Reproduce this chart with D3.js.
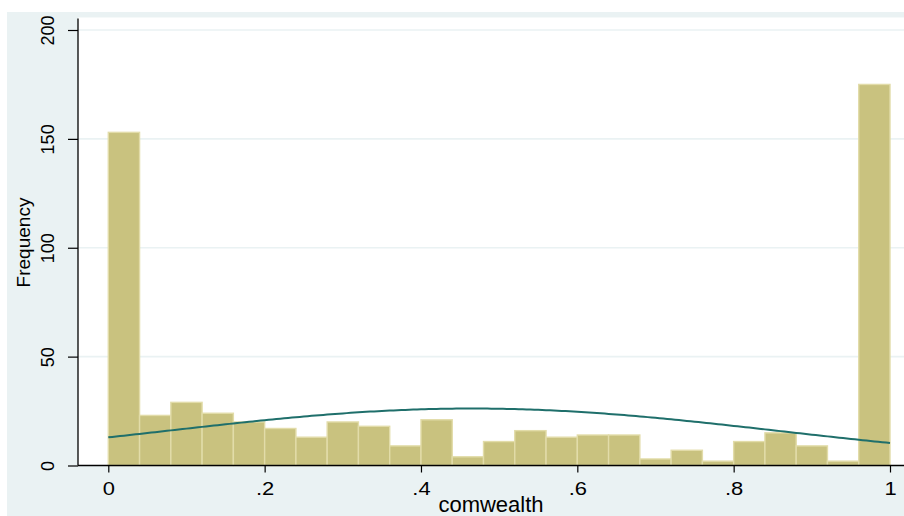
<!DOCTYPE html>
<html>
<head>
<meta charset="utf-8">
<script src="https://cdn.jsdelivr.net/npm/d3@7"></script>
<style>
  html, body { margin: 0; padding: 0; background: #ffffff; }
  svg { display: block; font-family: "Liberation Sans", Arial, Helvetica, sans-serif; }
</style>
</head>
<body>
<svg id="chart" width="904" height="516"></svg>
<script>
// Histogram of comwealth: 25 bins of width 0.04 on [0, 1]
const binStarts = [0.00, 0.04, 0.08, 0.12, 0.16, 0.20, 0.24, 0.28, 0.32, 0.36,
                   0.40, 0.44, 0.48, 0.52, 0.56, 0.60, 0.64, 0.68, 0.72, 0.76,
                   0.80, 0.84, 0.88, 0.92, 0.96];
const binCounts = [153, 23, 29, 24, 20, 17, 13, 20, 18, 9,
                   21, 4, 11, 16, 13, 14, 14, 3, 7, 2,
                   11, 15, 9, 2, 175];
const binWidth = 0.04;

const xTicks = [0, 0.2, 0.4, 0.6, 0.8, 1];
const xTickLabels = ["0", ".2", ".4", ".6", ".8", "1"];
const yTicks = [0, 50, 100, 150, 200];
const yGrid = [50, 100, 150, 200];

const xTitle = "comwealth";
const yTitle = "Frequency";

// Normal density overlay, fitted to the binned counts
const total = d3.sum(binCounts);
const mids = binStarts.map(s => s + binWidth / 2);
const fitMean = d3.sum(mids, (m, i) => m * binCounts[i]) / total;
const fitSd = Math.sqrt(d3.sum(mids, (m, i) => (m - fitMean) ** 2 * binCounts[i]) / total);
const curveXs = d3.range(0, 201).map(i => i / 200);

const svg = d3.select("#chart");
const W = 904, H = 516;

const graphBg = "#eaf2f3";
const barFill = "#c9c27f";
const barEdge = "#e2dca9";
const curveColor = "#1f6f6b";

// Plot region bounds
const plotLeft = 78, plotTop = 17.5, plotBottom = 465.5, plotRight = W;

const x = d3.scaleLinear().domain([0, 1]).range([108.3, 890]);
const y = d3.scaleLinear().domain([0, 200]).range([plotBottom, 30]);

// Graph region background
svg.append("rect").attr("x", 7).attr("y", 12).attr("width", W - 7).attr("height", H - 12)
  .attr("fill", graphBg);
// Plot region
svg.append("rect").attr("x", plotLeft).attr("y", plotTop)
  .attr("width", plotRight - plotLeft).attr("height", plotBottom - plotTop)
  .attr("fill", "#ffffff");

// Horizontal grid lines
svg.append("g").selectAll("line").data(yGrid).join("line")
  .attr("x1", plotLeft).attr("x2", plotRight)
  .attr("y1", d => y(d)).attr("y2", d => y(d))
  .attr("stroke", graphBg).attr("stroke-width", 1.6);

// Bars
svg.append("g").selectAll("rect").data(binStarts).join("rect")
  .attr("x", d => x(d))
  .attr("y", (d, i) => y(binCounts[i]))
  .attr("width", d => x(d + binWidth) - x(d))
  .attr("height", (d, i) => y(0) - y(binCounts[i]))
  .attr("fill", barFill)
  .attr("stroke", barEdge)
  .attr("stroke-width", 1.4);

// Normal curve
const normalPdf = v => Math.exp(-0.5 * ((v - fitMean) / fitSd) ** 2) / (fitSd * Math.sqrt(2 * Math.PI));
svg.append("path")
  .datum(curveXs)
  .attr("fill", "none")
  .attr("stroke", curveColor)
  .attr("stroke-width", 2)
  .attr("d", d3.line().x(d => x(d)).y(d => y(total * binWidth * normalPdf(d))));

// Y axis
const yAxis = svg.append("g").attr("transform", `translate(${plotLeft},0)`)
  .call(d3.axisLeft(y).tickValues(yTicks).tickSize(10).tickSizeOuter(0));
yAxis.select(".domain").remove();
yAxis.selectAll(".tick line").attr("stroke", "#000").attr("stroke-width", 1.2);
yAxis.selectAll(".tick text")
  .attr("x", null).attr("dy", null)
  .attr("text-anchor", "middle")
  .attr("transform", "translate(-24.5,0) rotate(-90)")
  .attr("font-size", 18).attr("font-family", null)
  .attr("fill", "#000");
svg.append("line").attr("x1", plotLeft).attr("x2", plotLeft)
  .attr("y1", 18.5).attr("y2", plotBottom)
  .attr("stroke", "#000").attr("stroke-width", 1.3);

// X axis
const xAxis = svg.append("g").attr("transform", `translate(0,${plotBottom})`)
  .call(d3.axisBottom(x).tickValues(xTicks).tickSize(7).tickSizeOuter(0)
    .tickFormat((d, i) => xTickLabels[i]));
xAxis.select(".domain").remove();
xAxis.selectAll(".tick line").attr("stroke", "#000").attr("stroke-width", 1.2);
xAxis.selectAll(".tick text")
  .attr("y", null).attr("dy", null)
  .attr("transform", "translate(0,29) scale(1.22,1)")
  .attr("font-size", 18).attr("font-family", null)
  .attr("fill", "#000");
svg.append("line").attr("x1", plotLeft).attr("x2", plotRight)
  .attr("y1", plotBottom).attr("y2", plotBottom)
  .attr("stroke", "#000").attr("stroke-width", 1.3);

// Axis titles
svg.append("text")
  .attr("x", 491).attr("y", 511.5)
  .attr("text-anchor", "middle")
  .attr("font-size", 22)
  .attr("fill", "#000")
  .text(xTitle);

svg.append("text")
  .attr("transform", "translate(29.5,242.5) rotate(-90)")
  .attr("text-anchor", "middle")
  .attr("font-size", 19)
  .attr("fill", "#000")
  .text(yTitle);
</script>
</body>
</html>
